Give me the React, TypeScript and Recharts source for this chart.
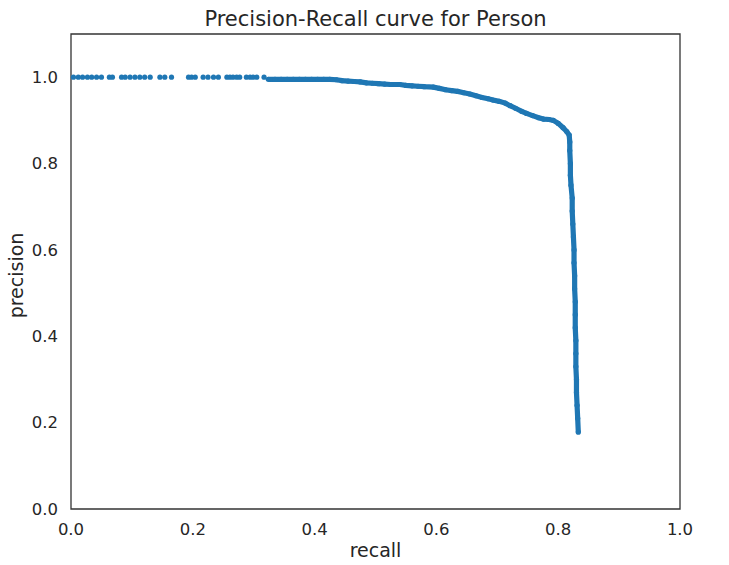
import {
  ScatterChart,
  Scatter,
  XAxis,
  YAxis,
  ReferenceArea,
} from 'recharts';

// sparse points at the start of the curve (precision stays at 1.0)
const sparseRecall = [
  0.004, 0.012, 0.019, 0.027, 0.034, 0.042, 0.05, 0.063, 0.068, 0.083, 0.089, 0.097,
  0.105, 0.113, 0.121, 0.13, 0.146, 0.154, 0.165, 0.193, 0.198, 0.204, 0.217, 0.225,
  0.234, 0.242, 0.256, 0.261, 0.266, 0.272, 0.277, 0.288, 0.294, 0.299, 0.305, 0.317,
];
const sparsePrecision = sparseRecall.map(() => 1.0);

// dense part of the curve
const denseRecall = [
  0.324, 0.335, 0.345, 0.355, 0.365, 0.375, 0.385, 0.395, 0.405, 0.415, 0.425, 0.436,
  0.445, 0.455, 0.465, 0.475, 0.485, 0.495, 0.505, 0.515, 0.525, 0.54, 0.55, 0.56,
  0.57, 0.58, 0.595, 0.605, 0.615, 0.625, 0.635, 0.645, 0.655, 0.665, 0.675, 0.685,
  0.693, 0.703, 0.713, 0.721, 0.73, 0.74, 0.748, 0.758, 0.768, 0.776, 0.785, 0.792,
  0.8, 0.808, 0.814, 0.818, 0.819, 0.819, 0.82, 0.82, 0.821, 0.823, 0.823, 0.824,
  0.825, 0.826, 0.826, 0.827, 0.827, 0.828, 0.828, 0.828, 0.829, 0.829, 0.829, 0.83,
  0.83, 0.831, 0.832, 0.833,
];
const densePrecision = [
  0.995, 0.995, 0.995, 0.995, 0.995, 0.995, 0.995, 0.995, 0.995, 0.995, 0.995, 0.994,
  0.992, 0.991, 0.99, 0.989, 0.987, 0.986, 0.985, 0.984, 0.983, 0.983, 0.981, 0.98,
  0.979, 0.978, 0.977, 0.974, 0.971, 0.969, 0.967, 0.964, 0.961, 0.957, 0.953, 0.95,
  0.947, 0.944, 0.94, 0.934, 0.928, 0.921, 0.916, 0.911, 0.906, 0.903, 0.902, 0.9,
  0.893, 0.883, 0.874, 0.866, 0.85, 0.83, 0.8, 0.773, 0.75, 0.72, 0.69, 0.66,
  0.63, 0.6, 0.57, 0.54, 0.51, 0.48, 0.45, 0.42, 0.39, 0.36, 0.33, 0.3,
  0.27, 0.24, 0.21, 0.178,
];

const xTicks = [0, 0.2, 0.4, 0.6, 0.8, 1.0];
const yTicks = [0, 0.2, 0.4, 0.6, 0.8, 1.0];

const sparseData = sparseRecall.map((r, i) => ({ recall: r, precision: sparsePrecision[i] }));
const denseData = denseRecall.map((r, i) => ({ recall: r, precision: densePrecision[i] }));

const BLUE = '#1f77b4';
const TEXT = '#262626';
const FONT = '"DejaVu Sans", sans-serif';

// matplotlib '.' marker
const Dot = (props: any) => <circle cx={props.cx} cy={props.cy} r={2.6} fill={BLUE} />;

const PrecisionLabel = (props: any) => {
  const { x, y, height } = props.viewBox;
  const cx = x + 22.5;
  const cy = y + height / 2 + 4;
  return (
    <text
      x={cx}
      y={cy}
      transform={`rotate(-90 ${cx} ${cy})`}
      textAnchor="middle"
      fill={TEXT}
      fontSize={19}
      fontFamily={FONT}
    >
      precision
    </text>
  );
};

export default function App() {
  return (
    <div style={{ position: 'absolute', left: 0, top: 0, width: 729, height: 565, background: '#fff', fontFamily: FONT }}>
      <div
        style={{
          position: 'absolute',
          top: 7,
          left: 71,
          width: 609,
          textAlign: 'center',
          fontSize: 21,
          color: TEXT,
          whiteSpace: 'nowrap',
        }}
      >
        Precision-Recall curve for Person
      </div>
      <ScatterChart width={729} height={565} margin={{ top: 34, right: 49, left: 0, bottom: 0 }}>
        <XAxis
          type="number"
          dataKey="recall"
          domain={[0, 1]}
          ticks={xTicks}
          tickFormatter={(v) => v.toFixed(1)}
          tickLine={false}
          axisLine={false}
          height={56}
          tick={{ fill: TEXT, fontSize: 16.5, fontFamily: FONT }}
          tickMargin={8}
          label={{
            value: 'recall',
            position: 'insideBottom',
            offset: 8,
            fill: TEXT,
            fontSize: 19,
            fontFamily: FONT,
          }}
        />
        <YAxis
          type="number"
          dataKey="precision"
          domain={[0, 1.1]}
          ticks={yTicks}
          tickFormatter={(v) => v.toFixed(1)}
          tickLine={false}
          axisLine={false}
          width={71}
          tick={{ fill: TEXT, fontSize: 16.5, fontFamily: FONT }}
          tickMargin={7}
          label={<PrecisionLabel />}
        />
        <ReferenceArea x1={0} x2={1} y1={0} y2={1.1} fill="none" stroke="#333" strokeWidth={1.3} />
        <Scatter data={sparseData} shape={<Dot />} isAnimationActive={false} />
        <Scatter
          data={denseData}
          shape={<Dot />}
          line={{ stroke: BLUE, strokeWidth: 5.2 }}
          lineType="joint"
          isAnimationActive={false}
        />
      </ScatterChart>
    </div>
  );
}
